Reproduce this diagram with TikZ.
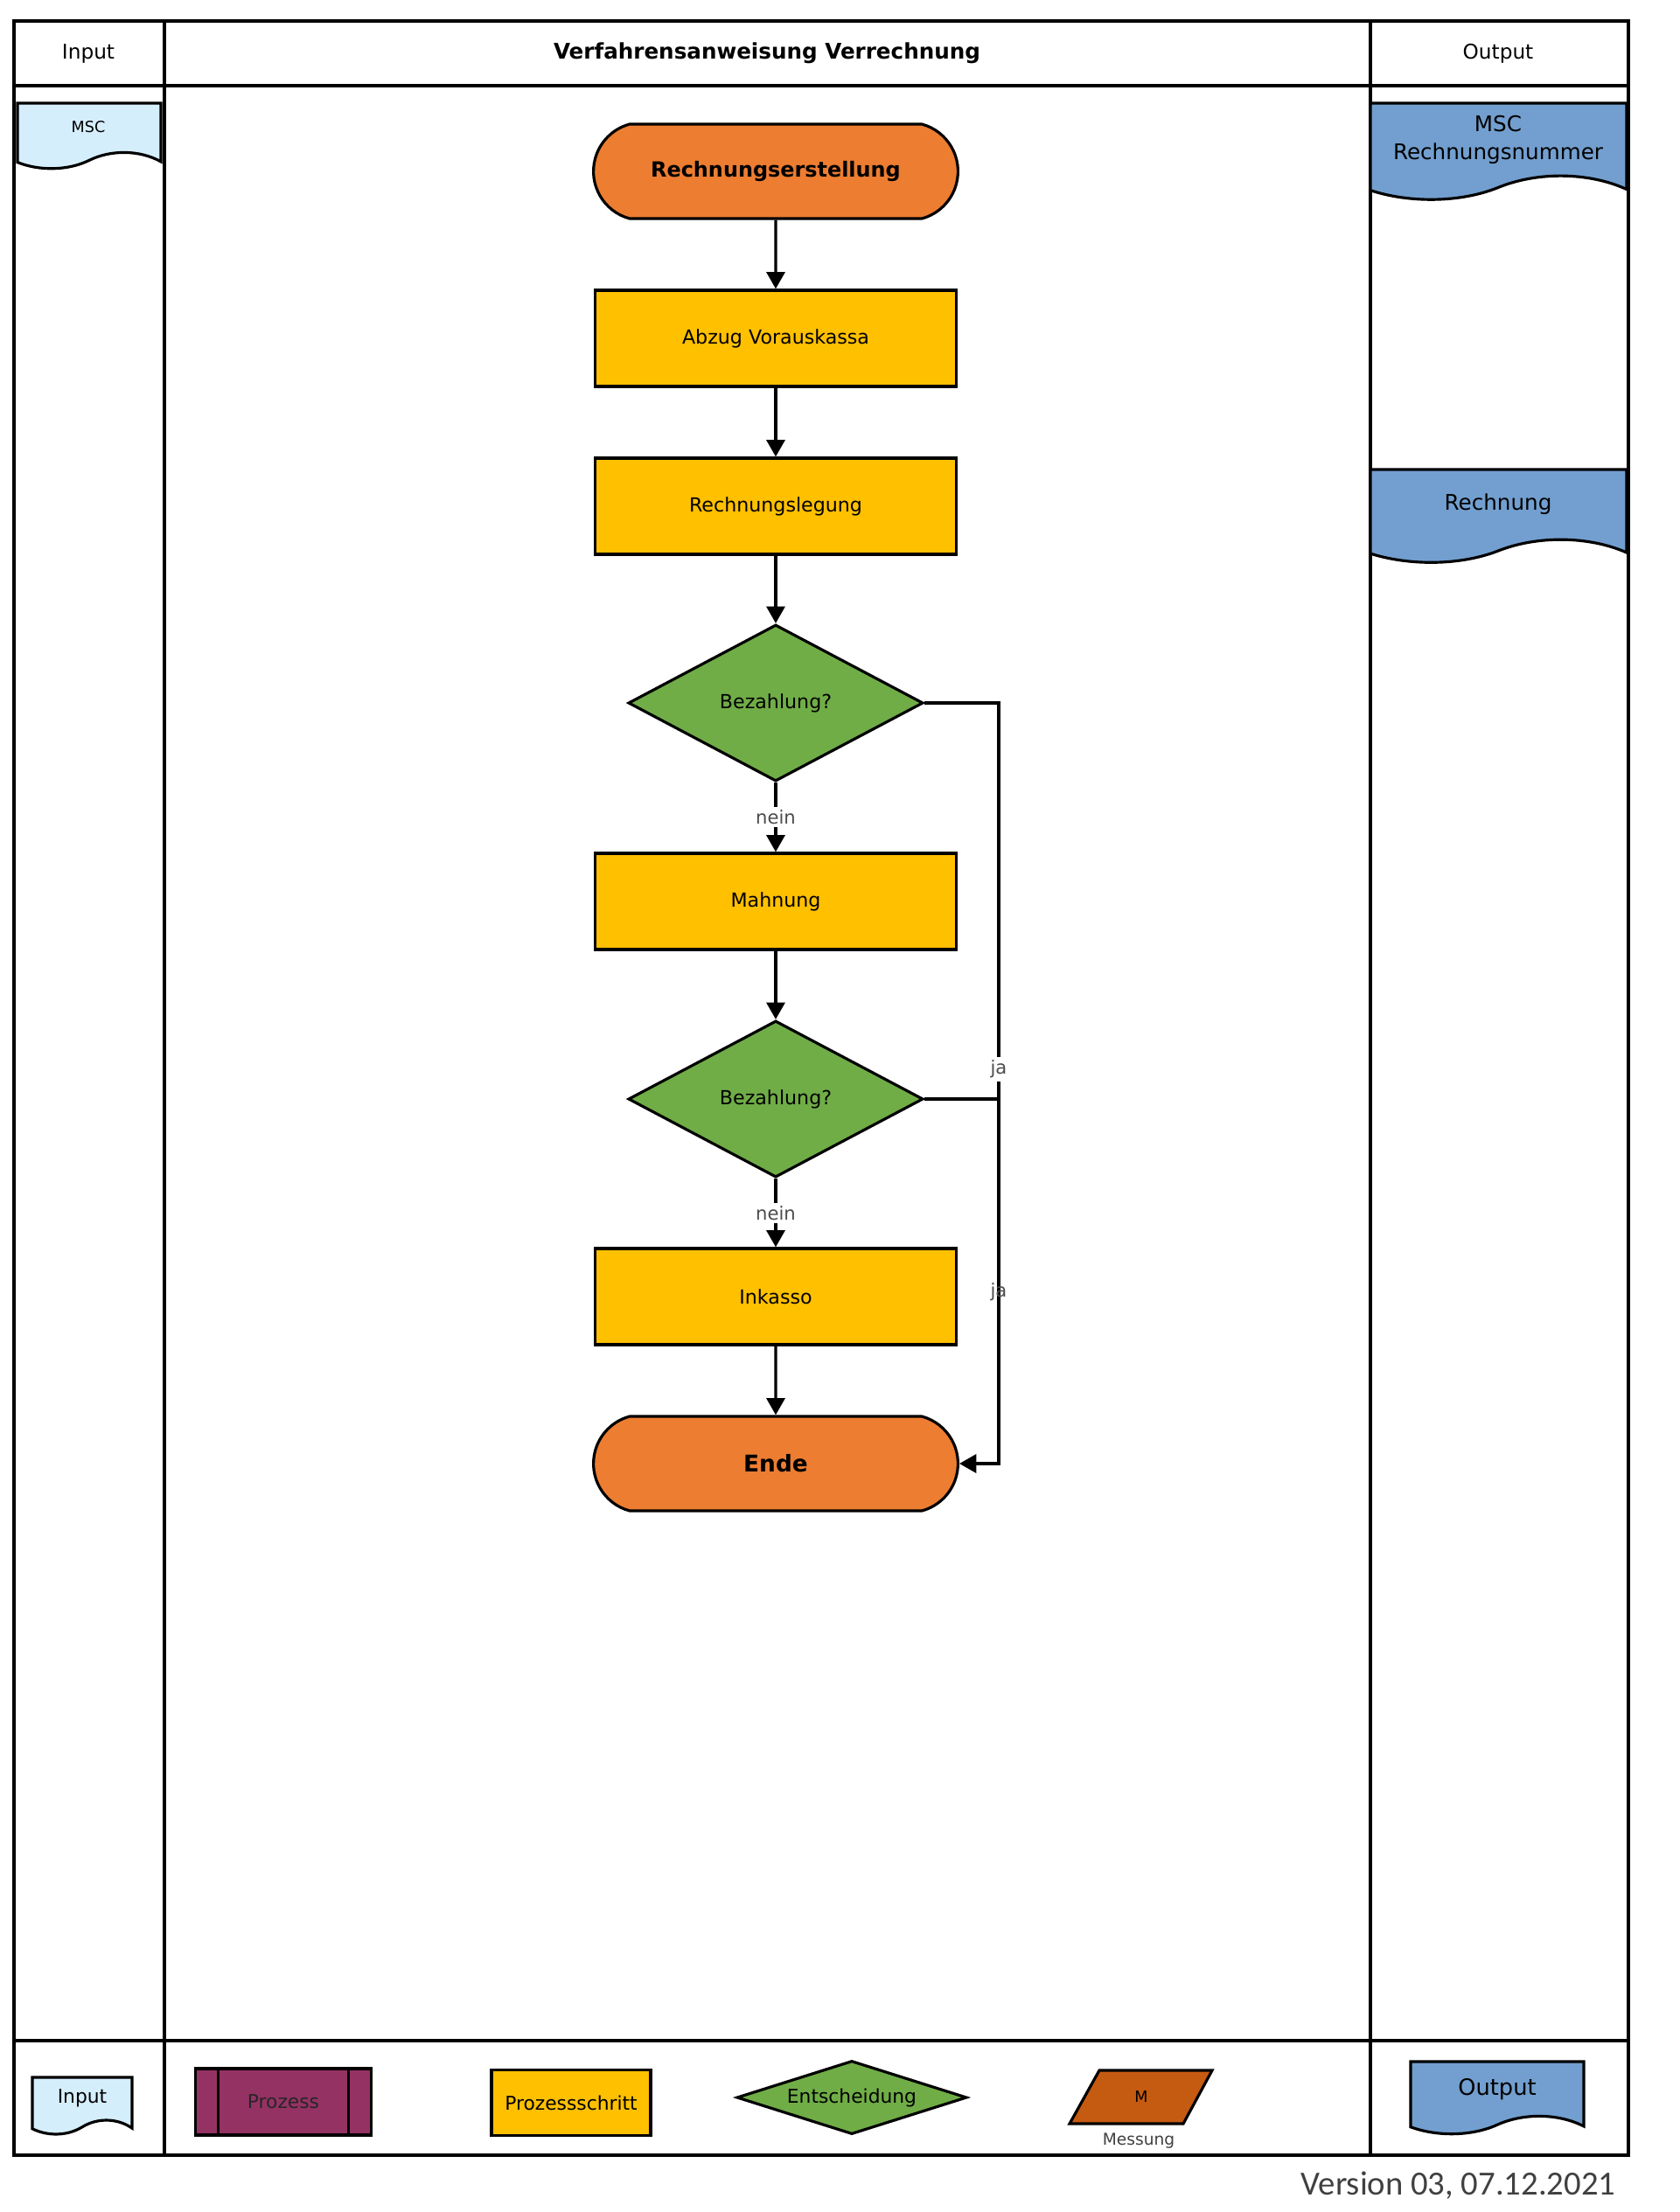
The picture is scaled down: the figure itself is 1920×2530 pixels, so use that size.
\documentclass[tikz,border=0pt]{standalone}
\usepackage{fontspec}
\setmainfont{DejaVu Sans}
\newfontfamily\versionfont{Carlito}
\usetikzlibrary{shapes.geometric,shapes.misc,arrows.meta}

\definecolor{termorange}{HTML}{ED7D31}
\definecolor{stepyellow}{HTML}{FFC000}
\definecolor{decgreen}{HTML}{70AD47}
\definecolor{inblue}{HTML}{D5EEFC}
\definecolor{outblue}{HTML}{729FCF}
\definecolor{procpurple}{HTML}{953264}
\definecolor{measorange}{HTML}{C55A11}

\tikzset{
  frame/.style={line width=1pt},
  terminal/.style={rounded rectangle, rounded rectangle arc length=150, draw, line width=0.9pt,
    fill=termorange, minimum width=4.4cm, minimum height=1.08cm,
    font=\bfseries\fontsize{6.8}{8}\selectfont},
  stepbox/.style={rectangle, draw, line width=0.9pt, fill=stepyellow,
    minimum width=4.13cm, minimum height=1.1cm, font=\fontsize{6.3}{8}\selectfont},
  decision/.style={diamond, draw, line width=0.9pt, fill=decgreen, inner sep=0pt, aspect=1.88,
    minimum width=3.37cm, minimum height=1.79cm, font=\fontsize{6.3}{8}\selectfont},
  flow/.style={line width=0.9pt, -{Triangle[width=6pt,length=5.5pt]}},
  conn/.style={line width=0.9pt},
  edgelbl/.style={font=\fontsize{6}{7}\selectfont, text=black!70, inner sep=1pt},
  doclbl/.style={font=\fontsize{7}{9}\selectfont, align=center},
  headlbl/.style={font=\fontsize{6.6}{8}\selectfont},
  legendlbl/.style={font=\fontsize{6.2}{8}\selectfont, inner sep=0pt},
}

% document symbol with wavy lower edge: x, y (top left), width, height, colour
\newcommand{\wavedoc}[5]{%
  \begin{scope}[shift={(#1,#2)}, xscale=#3, yscale=#4]
    \draw[line width=0.9pt, fill=#5] (0,0) -- (1,0) -- (1,0.88)
      .. controls (0.85,0.70) and (0.65,0.70) .. (0.5,0.86)
      .. controls (0.35,1.02) and (0.15,1.02) .. (0,0.89) -- cycle;
  \end{scope}}

\begin{document}
\begin{tikzpicture}[x=0.01cm, y=-0.01cm]
  \useasboundingbox (0,0) rectangle (1920,2530);

  % frame and columns
  \draw[frame] (16,24) rectangle (1862,2465);
  \draw[frame] (188,24) -- (188,2465);
  \draw[frame] (1567,24) -- (1567,2465);
  \draw[frame, line width=1.3pt] (16,98) -- (1862,98);
  \draw[frame, line width=1.3pt] (16,2334) -- (1862,2334);

  \node[headlbl] (hinput) at (101,61) {Input};
  \node[headlbl, font=\bfseries\fontsize{7}{8}\selectfont] (htitle) at (877,61) {Verfahrensanweisung Verrechnung};
  \node[headlbl] (houtput) at (1713,61) {Output};

  % input / output documents
  \wavedoc{20}{118}{164}{76}{inblue}
  \node[font=\fontsize{5}{6}\selectfont] (inmsc) at (101,145) {MSC};

  \wavedoc{1567}{118}{293}{112}{outblue}
  \node[doclbl] (outmsc) at (1713,160) {MSC\\Rechnungsnummer};

  \wavedoc{1567}{537}{293}{108}{outblue}
  \node[doclbl] (outrech) at (1713,577) {Rechnung};

  % process flow
  \node[terminal] (start) at (887,196) {Rechnungserstellung};
  \node[stepbox] (abzug) at (887,387) {Abzug Vorauskassa};
  \node[stepbox] (legung) at (887,579) {Rechnungslegung};
  \node[decision] (bez1) at (887,804) {Bezahlung?};
  \node[stepbox] (mahn) at (887,1031) {Mahnung};
  \node[decision] (bez2) at (887,1257) {Bezahlung?};
  \node[stepbox] (inkasso) at (887,1483) {Inkasso};
  \node[terminal, font=\bfseries\fontsize{7.5}{9}\selectfont] (ende) at (887,1674) {Ende};

  \coordinate (knick1) at (1142,804);
  \coordinate (knick2) at (1142,1257);
  \coordinate (knick3) at (1142,1674);

  \draw[flow] (start) -- (abzug);
  \draw[flow] (abzug) -- (legung);
  \draw[flow] (legung) -- (bez1);
  \draw[flow] (bez1) -- node[edgelbl, fill=white] {nein} (mahn);
  \draw[flow] (mahn) -- (bez2);
  \draw[flow] (bez2) -- node[edgelbl, fill=white] {nein} (inkasso);
  \draw[flow] (inkasso) -- (ende);
  \draw[conn] (bez1.east) -- (knick1) -- node[edgelbl, fill=white, pos=0.925] {ja} (knick2);
  \draw[flow] (bez2.east) -- (knick2) -- node[edgelbl, pos=0.53] {ja} (knick3) -- (ende.east);

  % legend
  \wavedoc{37}{2376}{114}{66}{inblue}
  \node[legendlbl] (leginput) at (94,2400) {Input};

  \node[rectangle, draw, line width=0.9pt, fill=procpurple, minimum width=2.01cm,
    minimum height=0.76cm, legendlbl, text=black!85] (legproz) at (324,2404) {Prozess};
  \draw[line width=0.9pt] ([xshift=0.28cm]legproz.north west) -- ([xshift=0.28cm]legproz.south west);
  \draw[line width=0.9pt] ([xshift=-0.28cm]legproz.north east) -- ([xshift=-0.28cm]legproz.south east);

  \node[stepbox, minimum width=1.82cm, minimum height=0.75cm, legendlbl] (legschritt) at (653,2405) {Prozessschritt};
  \node[decision, aspect=3.13, minimum width=2.63cm, minimum height=0.84cm, legendlbl] (legent) at (974,2399) {Entscheidung};

  \draw[line width=0.9pt, fill=measorange] (1257,2368) -- (1386,2368) -- (1353,2429) -- (1223,2429) -- cycle;
  \node[font=\fontsize{5}{6}\selectfont] (legm) at (1305,2398) {M};
  \node[font=\fontsize{5.3}{6}\selectfont, text=black!75] (legmess) at (1302,2449) {Messung};

  \wavedoc{1613}{2358}{198}{84}{outblue}
  \node[font=\fontsize{7.3}{8}\selectfont] (legoutput) at (1712,2390) {Output};

  \node[anchor=east, font=\versionfont\fontsize{11}{13}\selectfont, text=black!75, inner sep=0pt] (version) at (1848,2500) {Version 03, 07.12.2021};
\end{tikzpicture}
\end{document}
